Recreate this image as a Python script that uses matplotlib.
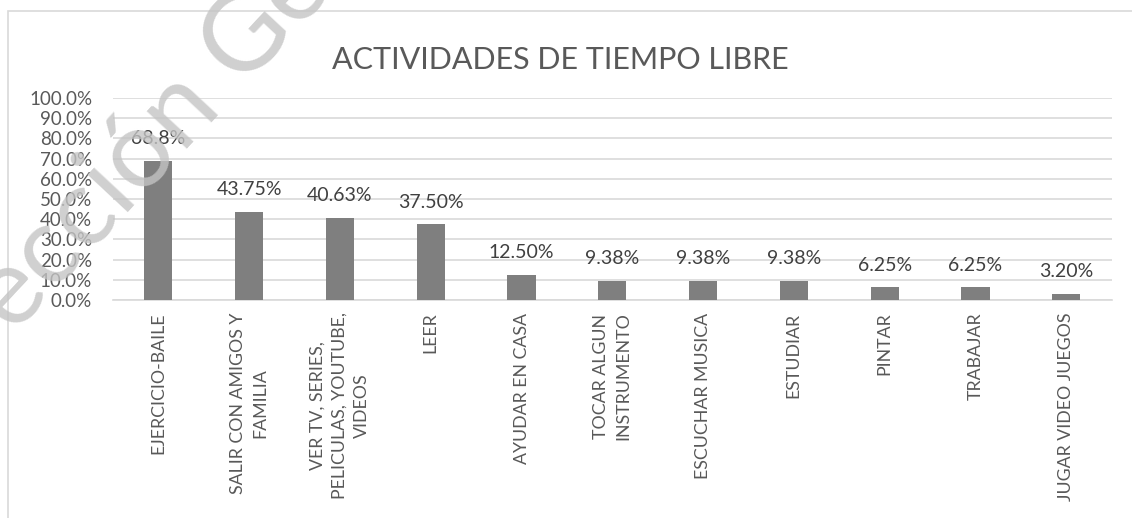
import matplotlib
matplotlib.use("Agg")
import matplotlib.pyplot as plt
from matplotlib.patches import Rectangle

categories = [
    "EJERCICIO-BAILE",
    "SALIR CON AMIGOS Y\nFAMILIA",
    "VER TV, SERIES,\nPELICULAS, YOUTUBE,\nVIDEOS",
    "LEER",
    "AYUDAR EN CASA",
    "TOCAR ALGUN\nINSTRUMENTO",
    "ESCUCHAR MUSICA",
    "ESTUDIAR",
    "PINTAR",
    "TRABAJAR",
    "JUGAR VIDEO JUEGOS",
]
values = [0.688, 0.4375, 0.4063, 0.375, 0.125, 0.0938, 0.0938, 0.0938, 0.0625, 0.0625, 0.032]
value_labels = ["68.8%", "43.75%", "40.63%", "37.50%", "12.50%", "9.38%", "9.38%",
                "9.38%", "6.25%", "6.25%", "3.20%"]
yticks = [i / 10 for i in range(11)]

plt.rcParams['font.family'] = ['Lato', 'DejaVu Sans']
text_color = "#595959"

fig = plt.figure(figsize=(11.32, 5.18), dpi=100)
ax = fig.add_axes([0.0998, 0.4208, 0.8822, 0.39])

# chart border
fig.patches.append(Rectangle((0.007, -0.1), 1.1, 1.079, transform=fig.transFigure,
                             fill=False, edgecolor="#d9d9d9", linewidth=1.2))

x = range(len(categories))
ax.bar(x, values, width=0.31, color="#7f7f7f", zorder=3)
ax.set_xlim(-0.5, len(categories) - 0.5)
ax.set_ylim(0, 1.0)
ax.set_yticks(yticks)
ax.set_yticklabels([f"{t * 100:.1f}%" for t in yticks], fontsize=13.5, color=text_color)
ax.set_xticks(list(x))
ax.set_xticklabels(categories, rotation=90, fontsize=12.8, color=text_color,
                   ha="center", va="top", multialignment="center", linespacing=1.45)
ax.tick_params(length=0, pad=9)
ax.tick_params(axis="y", pad=15)
ax.grid(axis="y", color="#d9d9d9", linewidth=1.2, zorder=0)
for s in ["top", "right", "left"]:
    ax.spines[s].set_visible(False)
ax.spines["bottom"].set_color("#d9d9d9")
ax.spines["bottom"].set_linewidth(1.2)

for i, (v, lab) in enumerate(zip(values, value_labels)):
    ax.annotate(lab, (i, v), xytext=(0, 16), textcoords="offset points",
                ha="center", va="center", fontsize=14, color="#404040")

fig.text(0.495, 0.885, "ACTIVIDADES DE TIEMPO LIBRE", ha="center", va="center",
         fontsize=22, color=text_color)

# watermark
fig.text(0.0115, 0.353, "ección General", rotation=47, rotation_mode="anchor",
         ha="left", va="baseline", fontsize=78, color="#c4c4c4", alpha=0.8, zorder=10)

fig.savefig("out.png", dpi=100)
